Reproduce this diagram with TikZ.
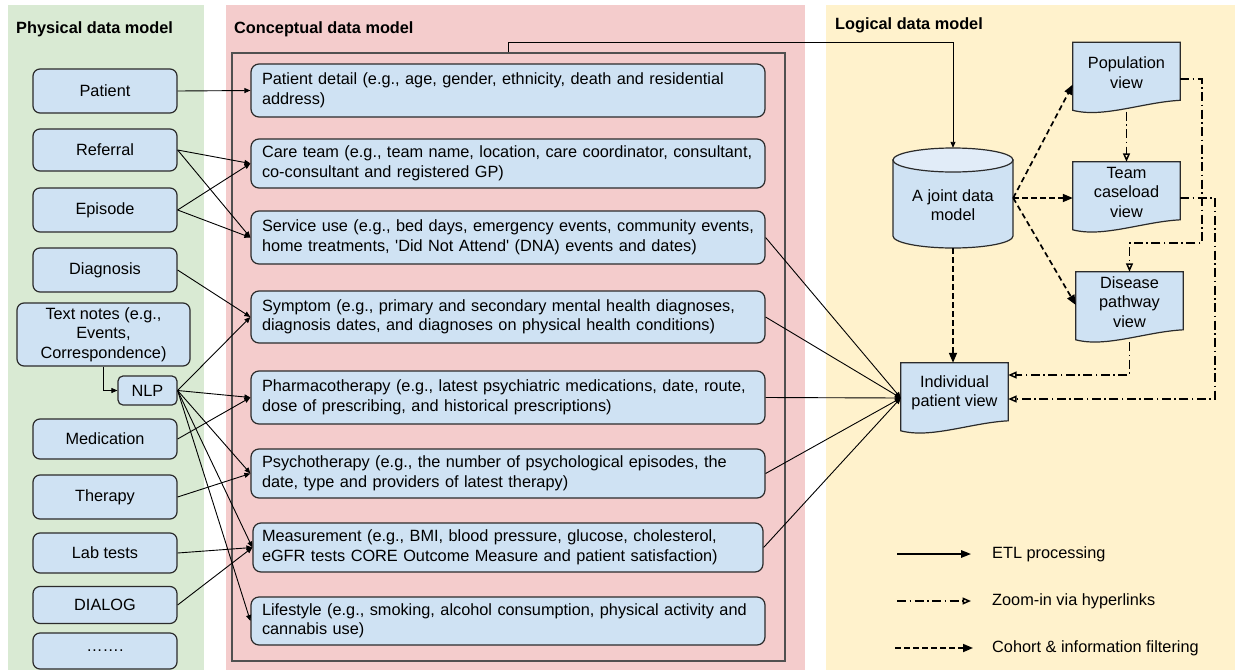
\documentclass[tikz,border=0pt]{standalone}
\usepackage{fontspec}
\setmainfont{Liberation Sans}
\usetikzlibrary{arrows.meta,calc}
\definecolor{greenp}{HTML}{D9EAD3}
\definecolor{pinkp}{HTML}{F4CCCC}
\definecolor{yellowp}{HTML}{FFF2CC}
\definecolor{boxblue}{HTML}{CFE2F3}
\definecolor{toplight}{HTML}{E1ECF8}
\definecolor{edge}{HTML}{2B2B2B}
\definecolor{framec}{HTML}{505050}
\pgfdeclarelayer{back}
\pgfsetlayers{back,main}
\newcommand\docshape[1]{%
  \path[docstyle] (#1.north west) -- (#1.north east) -- ($(#1.north east)+(0,58)$)
    .. controls ($(#1.north west)+(70,60)$) and ($(#1.north west)+(30,76)$) .. ($(#1.north west)+(0,68)$) -- cycle;}
\begin{document}
\begin{tikzpicture}[x=1pt,y=-1pt,
  every node/.style={font=\fontsize{16.3pt}{19.5pt}\selectfont},
  title/.style={font=\bfseries\fontsize{16.3pt}{19.5pt}\selectfont, anchor=base west, inner sep=0pt},
  pbox/.style={draw=edge, line width=1.2pt, fill=boxblue, rounded corners=7pt, minimum width=144pt, align=center, inner sep=2pt},
  cbox/.style={draw=edge, line width=1.2pt, fill=boxblue, rounded corners=8pt, minimum width=514pt, text width=492pt, align=left, inner xsep=11pt, inner ysep=2pt},
  docn/.style={minimum width=107pt, minimum height=60pt, align=center, inner sep=0pt},
  docstyle/.style={draw=edge, line width=1.2pt, fill=boxblue},
  etl/.style={draw=black, line width=0.9pt, -{Triangle[length=6pt,width=5pt]}},
  cohort/.style={draw=black, line width=1.7pt, dash pattern=on 5.5pt off 3.5pt, -{Triangle[length=10pt,width=8pt]}},
  zoomin/.style={draw=black, line width=1.5pt, dash pattern=on 9pt off 3.5pt on 1.5pt off 3.5pt, -{Triangle[open,length=8.5pt,width=7pt]}},
  legetl/.style={draw=black, line width=1.5pt, -{Triangle[length=10pt,width=7.5pt]}}
]
\useasboundingbox (0,0) rectangle (1235,670);
\begin{pgfonlayer}{back}
  \fill[white] (0,0) rectangle (1235,670);
  \fill[greenp] (8,5) rectangle (204,670);
  \fill[pinkp] (226,5) rectangle (805,670);
  \fill[yellowp] (826,5) rectangle (1235,670);
\end{pgfonlayer}

% titles
\node[title] (t1) at (16,33.5) {Physical data model};
\node[title] (t2) at (234,33.5) {Conceptual data model};
\node[title] (t3) at (835,29) {Logical data model};

% frame of conceptual model
\node[draw=framec, line width=1.4pt, minimum width=553pt, minimum height=608pt, inner sep=0pt] (frame) at (508.5,357) {};

% physical boxes
\node[pbox, minimum height=44pt] (pat) at (105,91) {Patient};
\node[pbox, minimum height=42pt] (ref) at (105,150) {Referral};
\node[pbox, minimum height=44pt] (epi) at (105,210) {Episode};
\node[pbox, minimum height=44pt] (dia) at (105,270) {Diagnosis};
\node[pbox, minimum width=173pt, minimum height=63pt] (txt) at (103.5,334.5) {Text notes (e.g.,\\Events,\\Correspondence)};
\node[pbox, minimum width=59pt, minimum height=29pt, rounded corners=5pt] (nlp) at (147.5,390.5) {NLP};
\node[pbox, minimum height=40pt] (med) at (105,439) {Medication};
\node[pbox, minimum height=44pt] (the) at (105,497) {Therapy};
\node[pbox, minimum height=40pt] (lab) at (105,553) {Lab tests};
\node[pbox, minimum height=37pt] (dlg) at (105,605) {DIALOG};
\node[pbox, minimum height=36pt] (etc) at (105,651) {…….};

% conceptual boxes
\node[cbox, minimum height=53pt] (pd) at (508,90.5) {Patient detail (e.g., age, gender, ethnicity, death and residential\\address)};
\node[cbox, minimum height=49pt] (ct) at (508,163.5) {Care team (e.g., team name, location, care coordinator, consultant,\\co-consultant and registered GP)};
\node[cbox, minimum height=53pt] (su) at (508,237.5) {Service use (e.g., bed days, emergency events, community events,\\home treatments, \textquotesingle Did Not Attend\textquotesingle{} (DNA) events and dates)};
\node[cbox, minimum height=52pt] (sy) at (508,317) {Symptom (e.g., primary and secondary mental health diagnoses,\\diagnosis dates, and diagnoses on physical health conditions)};
\node[cbox, minimum height=53pt] (ph) at (508,397.5) {Pharmacotherapy (e.g., latest psychiatric medications, date, route,\\dose of prescribing, and historical prescriptions)};
\node[cbox, minimum height=49pt] (ps) at (508,473.5) {Psychotherapy (e.g., the number of psychological episodes, the\\date, type and providers of latest therapy)};
\node[cbox, minimum width=510pt, inner xsep=9pt, minimum height=49pt] (me) at (508,547.5) {Measurement (e.g., BMI, blood pressure, glucose, cholesterol,\\eGFR tests CORE Outcome Measure and patient satisfaction)};
\node[cbox, minimum height=48pt] (ls) at (508,621) {Lifestyle (e.g., smoking, alcohol consumption, physical activity and\\cannabis use)};

% logical model
\node[minimum width=120pt, minimum height=100pt, inner sep=0pt] (db) at (953,198) {};
\begin{pgfonlayer}{back}
  \path[docstyle] (893,160) -- (893,236) arc[start angle=180, end angle=360, x radius=60pt, y radius=12pt] -- (1013,160) -- cycle;
  \path[docstyle, fill=toplight] (953,160) ellipse [x radius=60pt, y radius=12pt];
\end{pgfonlayer}
\node[align=center, inner sep=0pt] (dbt) at (953,205) {A joint data\\model};

\node[docn] (pop) at (1126.5,72.5) {Population\\view};
\node[docn] (team) at (1126.5,192) {Team\\caseload\\view};
\node[docn] (dis) at (1129.5,302) {Disease\\pathway\\view};
\node[docn] (ipv) at (954.5,393) {Individual\\patient view};
\begin{pgfonlayer}{back}
  \docshape{pop}
  \docshape{team}
  \docshape{dis}
  \docshape{ipv}
\end{pgfonlayer}

% ETL connectors
\draw[etl] (pat.east) -- (pd.west);
\draw[etl] (ref.east) -- (ct.west);
\draw[etl] (ref.east) -- (su.west);
\draw[etl] (epi.east) -- (ct.west);
\draw[etl] (epi.east) -- (su.west);
\draw[etl] (dia.east) -- (sy.west);
\draw[etl] (txt.south) |- (nlp.west);
\draw[etl] (nlp.east) -- (sy.west);
\draw[etl] (nlp.east) -- (ph.west);
\draw[etl] (nlp.east) -- (ps.west);
\draw[etl] (nlp.east) -- (me.west);
\draw[etl] (nlp.east) -- (ls.west);
\draw[etl] (med.east) -- (ph.west);
\draw[etl] (the.east) -- (ps.west);
\draw[etl] (lab.east) -- (me.west);
\draw[etl] (dlg.east) -- (me.west);
\coordinate (ipvin) at ($(ipv.west)+(0,5)$);
\draw[etl] (su.east) -- (ipvin);
\draw[etl] (sy.east) -- (ipvin);
\draw[etl] (ph.east) -- (ipvin);
\draw[etl] (ps.east) -- (ipvin);
\draw[etl] (me.east) -- (ipvin);
\draw[etl] (frame.north) -- ++(0,-10) -| (db.north);

% cohort filtering
\draw[cohort] (db.east) -- ($(pop.west)+(0,12)$);
\draw[cohort] (db.east) -- ($(team.west)+(0,6)$);
\draw[cohort] (db.east) -- ($(dis.west)+(0,3)$);
\draw[cohort] (db.south) -- (db.south |- ipv.north);

% zoom-in
\draw[zoomin] ($(pop.south)+(0,9)$) -- (team.north);
\draw[zoomin] ($(pop.east)+(0,6.5)$) -- (1202,79) -- (1202,243) -| (dis.north);
\draw[zoomin] ($(team.east)+(0,6)$) -- (1215,198) -- (1215,399) -- ($(ipv.east)+(0,6)$);
\draw[zoomin] ($(dis.south)+(0,10)$) |- ($(ipv.east)+(0,-18)$);

% legend
\coordinate (l1a) at (897,554); \coordinate (l1b) at (971,554);
\coordinate (l2a) at (897,601); \coordinate (l2b) at (971,601);
\coordinate (l3a) at (895,648); \coordinate (l3b) at (973,648);
\draw[legetl] (l1a) -- (l1b);
\draw[zoomin] (l2a) -- (l2b);
\draw[cohort] (l3a) -- (l3b);
\node[anchor=west, inner sep=0pt] (l1t) at (992,554) {ETL processing};
\node[anchor=west, inner sep=0pt] (l2t) at (992,601) {Zoom-in via hyperlinks};
\node[anchor=west, inner sep=0pt] (l3t) at (992,648) {Cohort \& information filtering};
\end{tikzpicture}
\end{document}
